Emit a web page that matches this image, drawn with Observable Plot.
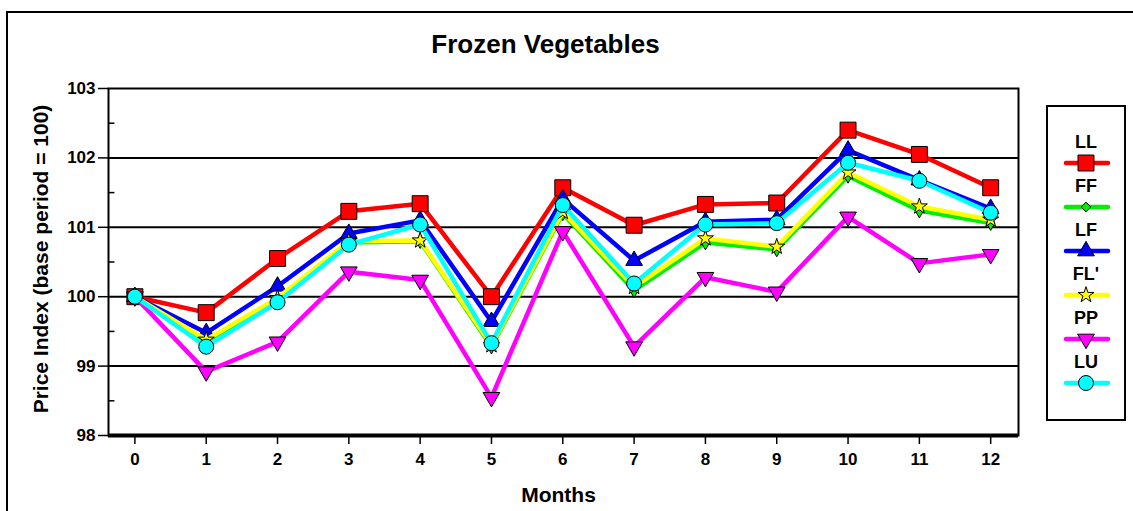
<!DOCTYPE html>
<html>
<head>
<meta charset="utf-8">
<script src="https://cdn.jsdelivr.net/npm/d3@7"></script>
<script src="https://cdn.jsdelivr.net/npm/@observablehq/plot@0.6"></script>
<style>
  html, body { margin: 0; padding: 0; background: #fff; }
  #wrap { position: relative; width: 1133px; height: 511px; overflow: hidden; font-family: "Liberation Sans", Arial, sans-serif; }
  #outer { position: absolute; left: 6px; top: 11px; width: 1200px; height: 600px; border-left: 2px solid #000; border-top: 2px solid #000; }
  #chart { position: absolute; left: 0; top: 0; }
  #chart svg text { font-weight: bold; }
  #legend { position: absolute; left: 0; top: 0; }
</style>
</head>
<body>
<div id="wrap">
  <div id="outer"></div>
  <div id="chart"></div>
  <svg id="legend" width="1133" height="511"></svg>
</div>
<script>
// ---- data ----
const months = [0, 1, 2, 3, 4, 5, 6, 7, 8, 9, 10, 11, 12];
const seriesNames = ["LL", "FF", "LF", "FL'", "PP", "LU"];
const LL  = [100.00, 99.77, 100.55, 101.23, 101.34, 100.00, 101.57, 101.03, 101.33, 101.35, 102.40, 102.05, 101.57];
const FF  = [100.00, 99.36, 99.96, 100.78, 100.80, 99.28, 101.20, 100.09, 100.78, 100.68, 101.74, 101.24, 101.06];
const LF  = [100.00, 99.48, 100.15, 100.91, 101.10, 99.64, 101.41, 100.52, 101.08, 101.11, 102.11, 101.68, 101.27];
const FLp = [100.00, 99.38, 99.98, 100.80, 100.81, 99.30, 101.22, 100.14, 100.84, 100.72, 101.79, 101.30, 101.11];
const PP  = [100.00, 98.92, 99.35, 100.36, 100.24, 98.55, 100.94, 99.28, 100.28, 100.07, 101.15, 100.48, 100.61];
const LU  = [100.00, 99.28, 99.92, 100.75, 101.04, 99.33, 101.32, 100.19, 101.04, 101.06, 101.93, 101.67, 101.21];
const yTicks = [98, 99, 100, 101, 102, 103];
const yMinorTicks = [98.5, 99.5, 100.5, 101.5, 102.5];
const gridValues = [99, 100, 101, 102];

// ---- styles per series ----
const sqrt3 = Math.sqrt(3);
const triangleDown = {
  draw(context, size) {
    const y = -Math.sqrt(size / (sqrt3 * 3));
    context.moveTo(0, -y * 2);
    context.lineTo(-sqrt3 * y, y);
    context.lineTo(sqrt3 * y, y);
    context.closePath();
  }
};
const styles = {
  "LL":  {color: "#ff0000", symbol: "square",   r: 9.0},
  "FF":  {color: "#00ee00", symbol: "diamond",  r: 4.4},
  "LF":  {color: "#0000ff", symbol: "triangle", r: 6.2},
  "FL'": {color: "#ffff00", symbol: "star",     r: 5.0},
  "PP":  {color: "#ff00ff", symbol: triangleDown, r: 6.2},
  "LU":  {color: "#00ffff", symbol: "circle",   r: 7.5}
};
const seriesValues = {"LL": LL, "FF": FF, "LF": LF, "FL'": FLp, "PP": PP, "LU": LU};

const table = seriesNames.map(name => months.map((m, i) => ({series: name, month: m, value: seriesValues[name][i]})));

const xDomain = [-0.37, 12.39];
const font = "'Liberation Sans', Arial, sans-serif";

const marks = [
  Plot.ruleY(gridValues, {stroke: "#000", strokeWidth: 2}),
  Plot.frame({stroke: "#000", strokeWidth: 2}),
  Plot.ruleY(yMinorTicks, {x1: xDomain[0], x2: xDomain[0] + 0.09, stroke: "#000", strokeWidth: 1.5}),
  Plot.ruleY([98], {stroke: "#000", strokeWidth: 4}),
  Plot.axisY({ticks: yTicks, tickSize: 10, tickPadding: 3, tickFormat: d => String(d), label: null, strokeWidth: 1.5, fontSize: 17}),
  Plot.axisX({ticks: months, tickSize: 9, tickPadding: 8, tickFormat: d => String(d), label: null, strokeWidth: 1.5, fontSize: 17})
];
table.forEach((rows, k) => {
  const st = styles[seriesNames[k]];
  marks.push(Plot.line(rows, {x: "month", y: "value", stroke: st.color, strokeWidth: 4.5, strokeLinejoin: "miter"}));
  marks.push(Plot.dot(rows, {x: "month", y: "value", symbol: () => st.symbol, r: st.r, fill: st.color, stroke: "#000", strokeWidth: 1}));
});
marks.push(
  Plot.text(["Frozen Vegetables"], {frameAnchor: "top", dy: -44, dx: -18, fontSize: 26, lineAnchor: "middle"}),
  Plot.text(["Months"], {frameAnchor: "bottom", dy: 60, dx: -5, fontSize: 21, lineAnchor: "middle"})
);

const chart = Plot.plot({
  width: 1133,
  height: 511,
  marginLeft: 108,
  marginRight: 115,
  marginTop: 88,
  marginBottom: 76,
  style: {fontFamily: font, fontSize: "17px", fontWeight: "bold", background: "transparent", overflow: "visible"},
  x: {domain: xDomain, type: "linear"},
  y: {domain: [98, 103]},
  symbol: {type: "identity"},
  marks
});
document.getElementById("chart").appendChild(chart);

// ---- y-axis title and legend (overlay) ----
const lg = d3.select("#legend");
lg.append("text").attr("transform", "translate(42,259) rotate(-90)")
  .attr("text-anchor", "middle").attr("dominant-baseline", "middle")
  .attr("font-family", font).attr("font-size", 21).attr("font-weight", "bold")
  .text("Price Index (base period = 100)");

lg.append("rect").attr("x", 1047).attr("y", 106).attr("width", 78).attr("height", 314)
  .attr("fill", "#fff").attr("stroke", "#000").attr("stroke-width", 2);
seriesNames.forEach((name, i) => {
  const st = styles[name];
  const labelY = 143 + i * 44;
  const lineY = 163 + i * 44;
  lg.append("text").attr("x", 1086).attr("y", labelY).attr("text-anchor", "middle").attr("dominant-baseline", "middle")
    .attr("font-family", font).attr("font-size", 18).attr("font-weight", "bold").text(name);
  lg.append("line").attr("x1", 1066).attr("x2", 1108).attr("y1", lineY).attr("y2", lineY)
    .attr("stroke", st.color).attr("stroke-width", 4.5).attr("stroke-linecap", "round");
  const symType = typeof st.symbol === "string" ? {
    square: d3.symbolSquare, diamond: d3.symbolDiamond2, triangle: d3.symbolTriangle, star: d3.symbolStar, circle: d3.symbolCircle
  }[st.symbol] : st.symbol;
  lg.append("path").attr("transform", `translate(1086,${lineY})`)
    .attr("d", d3.symbol(symType, st.r * st.r * Math.PI)())
    .attr("fill", st.color).attr("stroke", "#000").attr("stroke-width", 1);
});
</script>
</body>
</html>
